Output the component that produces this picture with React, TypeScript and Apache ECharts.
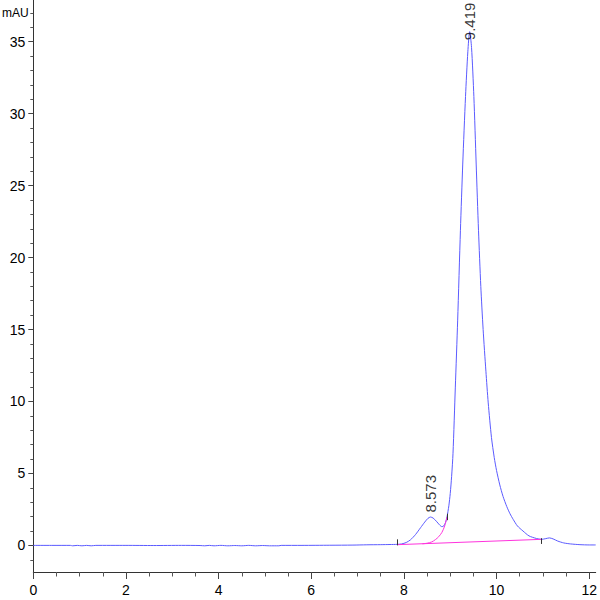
import React, { useEffect, useRef } from "react";
import * as echarts from "echarts";

// Chromatogram trace (retention time in min, absorbance in mAU)
const signalTime = [
  0, 0.4, 0.8, 0.85, 0.95, 1.05, 1.15, 1.25, 1.35, 2.0, 2.6, 3.2, 3.6, 3.7, 3.8, 3.9,
  4.05, 4.2, 4.35, 4.5, 4.65, 4.8, 4.95, 5.1, 5.3, 5.35, 5.8, 6.4, 6.9, 7.2, 7.5, 7.7,
  7.85, 7.95, 8.05, 8.14, 8.25, 8.36, 8.45, 8.52, 8.573, 8.63, 8.7, 8.77, 8.82, 8.86,
  8.9, 8.93, 8.97, 9.0, 9.03, 9.06, 9.11, 9.16, 9.22, 9.27, 9.33, 9.38, 9.419, 9.46,
  9.51, 9.56, 9.61, 9.66, 9.71, 9.77, 9.82, 9.89, 9.95, 10.0, 10.07, 10.14, 10.22,
  10.29, 10.36, 10.45, 10.57, 10.7, 10.86, 10.97, 11.05, 11.14, 11.22, 11.32, 11.45,
  11.6, 11.8, 12.0, 12.14,
];
const signalValue = [
  0, 0, 0, -0.03, 0.0, -0.03, 0, -0.03, 0, 0, -0.01, 0, -0.01, -0.03, 0, -0.03,
  0, -0.03, -0.01, -0.03, 0, -0.03, -0.01, -0.03, -0.03, 0, 0, 0.01, 0.02, 0.04, 0.05, 0.06,
  0.07, 0.1, 0.2, 0.38, 0.75, 1.23, 1.62, 1.88, 1.97, 1.9, 1.68, 1.42, 1.3, 1.35,
  1.6, 1.97, 2.75, 3.6, 4.8, 6.4, 11.0, 15.6, 21.9, 26.5, 31.2, 34.3, 35.7, 34.6,
  31.2, 26.5, 21.9, 18.0, 15.0, 12.1, 9.9, 7.5, 6.1, 5.2, 4.2, 3.4, 2.7,
  2.2, 1.8, 1.35, 1.0, 0.66, 0.48, 0.42, 0.46, 0.52, 0.45, 0.3, 0.17,
  0.1, 0.05, 0.03, 0.03,
];

// Integration baseline and tangent skim (magenta)
const baselineTime = [7.86, 10.97];
const baselineValue = [0.05, 0.42];
const skimTime = [8.4, 8.5, 8.6, 8.68, 8.75, 8.82, 8.88, 8.93];
const skimValue = [0.11, 0.15, 0.24, 0.4, 0.6, 0.9, 1.35, 1.97];

// Peak annotations
const peakTimes = [8.573, 9.419];
const peakHeights = [1.97, 35.7];

// Integration event marks
const eventMarkTime = [7.86, 8.93, 10.97];
const eventMarkLow = [0.0, 1.75, 0.1];
const eventMarkHigh = [0.42, 2.2, 0.5];

// Axis ticks
const xMajorTicks = [0, 2, 4, 6, 8, 10, 12];
const xMinorTicks = [
  0.5, 1, 1.5, 2.5, 3, 3.5, 4.5, 5, 5.5, 6.5, 7, 7.5, 8.5, 9, 9.5, 10.5, 11, 11.5,
];
const yMajorTicks = [0, 5, 10, 15, 20, 25, 30, 35];
const yMinorTicks = [
  -1, 1, 2, 3, 4, 6, 7, 8, 9, 11, 12, 13, 14, 16, 17, 18, 19, 21, 22, 23, 24, 26, 27,
  28, 29, 31, 32, 33, 34, 36, 37,
];

const X_MIN = 0;
const X_MAX = 12.14;
const Y_MIN = -1.85;
const Y_MAX = 37.9;

const NARROW = '"Liberation Sans Narrow", "Arial Narrow", "Liberation Sans", Arial, sans-serif';
const REGULAR = '"Liberation Sans", Arial, sans-serif';

export default function App() {
  const ref = useRef<HTMLDivElement>(null);

  useEffect(() => {
    if (!ref.current) return;
    const chart = echarts.init(ref.current, undefined, { renderer: "svg" });

    const trace = signalTime.map((t, i) => [t, signalValue[i]]);
    const baseline = baselineTime.map((t, i) => [t, baselineValue[i]]);
    const skim = skimTime.map((t, i) => [t, skimValue[i]]);
    const marks = eventMarkTime.map((t, i) => [
      { coord: [t, eventMarkLow[i]] },
      { coord: [t, eventMarkHigh[i]] },
    ]);
    const peaks = peakTimes.map((t, i) => ({
      value: [t, peakHeights[i]],
      label: { position: i === 0 ? [0.5, -4] : [0.5, 9] },
    }));

    const axisColor = "#333";

    chart.setOption({
      animation: false,
      backgroundColor: "#ffffff",
      grid: { left: 33.3, right: 0, top: 0, bottom: 28, containLabel: false },
      graphic: [
        {
          type: "text",
          left: 2,
          top: 7,
          style: { text: "mAU", fontSize: 12, fontFamily: NARROW, fill: "#000" },
        },
      ],
      xAxis: [
        {
          type: "value",
          min: X_MIN,
          max: X_MAX,
          position: "bottom",
          axisLine: { show: true, onZero: false, lineStyle: { color: axisColor, width: 1 } },
          axisTick: {
            show: true,
            customValues: xMajorTicks,
            length: 7,
            lineStyle: { color: "#444" },
          },
          axisLabel: {
            show: true,
            customValues: xMajorTicks,
            margin: 11,
            fontSize: 14,
            fontFamily: NARROW,
            color: "#000",
            showMinLabel: true,
            showMaxLabel: true,
          },
          splitLine: { show: false },
        },
        {
          type: "value",
          min: X_MIN,
          max: X_MAX,
          position: "bottom",
          axisLine: { show: false, onZero: false },
          axisTick: {
            show: true,
            customValues: xMinorTicks,
            length: 4.5,
            lineStyle: { color: "#555" },
          },
          axisLabel: { show: false },
          splitLine: { show: false },
        },
      ],
      yAxis: [
        {
          type: "value",
          min: Y_MIN,
          max: Y_MAX,
          position: "left",
          axisLine: { show: true, onZero: false, lineStyle: { color: axisColor, width: 1 } },
          axisTick: {
            show: true,
            customValues: yMajorTicks,
            length: 5,
            lineStyle: { color: "#444" },
          },
          axisLabel: {
            show: true,
            customValues: yMajorTicks,
            margin: 8,
            fontSize: 14,
            fontFamily: NARROW,
            color: "#000",
          },
          splitLine: { show: false },
        },
        {
          type: "value",
          min: Y_MIN,
          max: Y_MAX,
          position: "left",
          axisLine: { show: false, onZero: false },
          axisTick: {
            show: true,
            customValues: yMinorTicks,
            length: 3,
            lineStyle: { color: "#555" },
          },
          axisLabel: { show: false },
          splitLine: { show: false },
        },
      ],
      series: [
        {
          type: "line",
          name: "signal",
          xAxisIndex: 0,
          yAxisIndex: 0,
          data: trace,
          symbol: "none",
          smooth: 0.25,
          lineStyle: { color: "#5b5bff", width: 1 },
          z: 2,
          markLine: {
            silent: true,
            symbol: ["none", "none"],
            label: { show: false },
            lineStyle: { color: "#333", width: 1, type: "solid" },
            data: marks,
          },
        },
        {
          type: "line",
          name: "baseline",
          xAxisIndex: 0,
          yAxisIndex: 0,
          data: baseline,
          symbol: "none",
          lineStyle: { color: "#ff33dd", width: 1 },
          z: 3,
        },
        {
          type: "line",
          name: "skim",
          xAxisIndex: 0,
          yAxisIndex: 0,
          data: skim,
          symbol: "none",
          smooth: 0.3,
          lineStyle: { color: "#ff33dd", width: 1 },
          z: 3,
        },
        {
          type: "scatter",
          name: "peaks",
          xAxisIndex: 0,
          yAxisIndex: 0,
          data: peaks,
          symbolSize: 1,
          itemStyle: { color: "rgba(0,0,0,0)" },
          z: 4,
          label: {
            show: true,
            rotate: 90,
            align: "left",
            verticalAlign: "middle",
            fontSize: 15,
            fontFamily: REGULAR,
            color: "#000",
            formatter: (p: any) => Number(p.value[0]).toFixed(3),
          },
        },
      ],
    });

    return () => chart.dispose();
  }, []);

  return (
    <div
      ref={ref}
      style={{ position: "absolute", left: 0, top: 0, width: 600, height: 600, background: "#fff" }}
    />
  );
}
